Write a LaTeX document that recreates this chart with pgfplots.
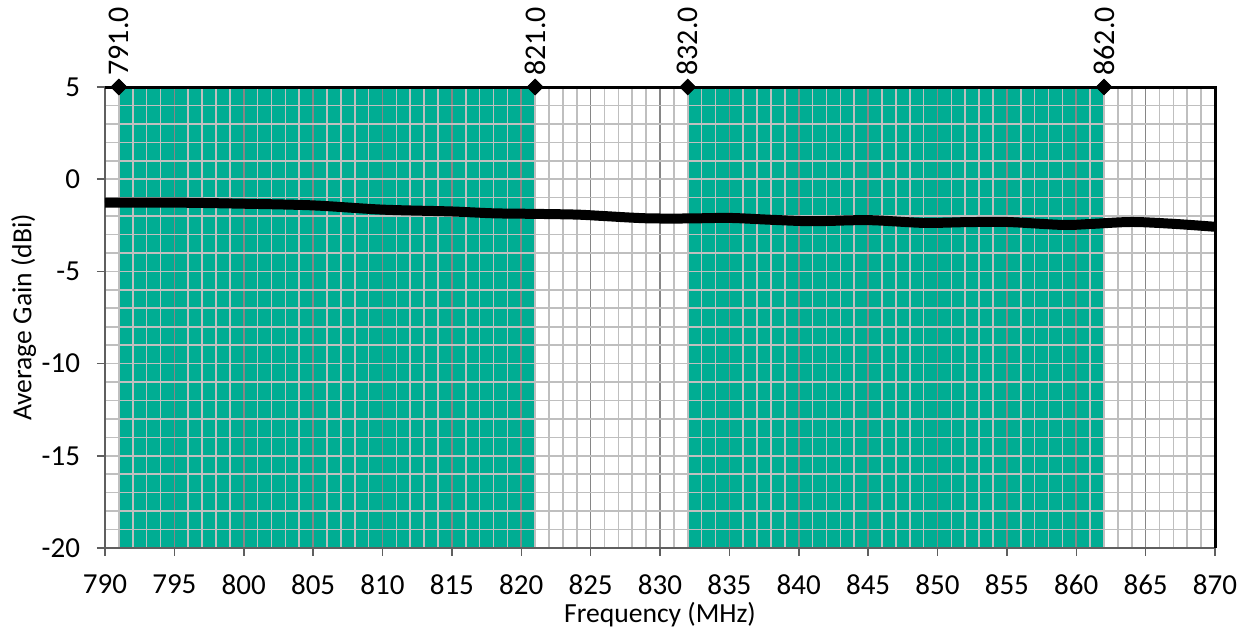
\documentclass[border=0pt]{standalone}
\usepackage{pgfplots}
\pgfplotsset{compat=1.18}
\usepackage{fontspec}
\setmainfont{Carlito}
\usetikzlibrary{calc}
\definecolor{band}{RGB}{0,173,147}
\definecolor{majgrid}{RGB}{134,134,134}
\definecolor{mingrid}{RGB}{191,191,191}
\definecolor{axgray}{RGB}{95,95,95}

\begin{document}
\begin{tikzpicture}
\begin{axis}[
    set layers,
    scale only axis,
    width=555bp, height=230.5bp,
    xmin=790, xmax=870, ymin=-20, ymax=5,
    xtick={790,795,...,870},
    ytick={-20,-15,...,5},
    minor x tick num=4, minor y tick num=4,
    grid=both,
    major grid style={mingrid, line width=0.8bp},
    major x grid style={majgrid, line width=0.8bp},
    minor grid style={mingrid, line width=0.8bp},
    tick pos=left, tick align=outside,
    major tick length=4bp, minor tick length=0pt,
    every tick/.style={axgray, line width=0.75bp},
    axis line style={axgray, line width=1bp},
    font=\fontsize{13.8bp}{16bp}\selectfont,
    tick label style={font=\fontsize{14.5bp}{16bp}\selectfont},
    xticklabel style={yshift=-6bp},
    yticklabel style={xshift=-5bp},
    xlabel style={yshift=3bp},
    ylabel style={yshift=-4bp},
    /pgf/number format/assume math mode=true,
    xlabel={Frequency (MHz)},
    ylabel={Average Gain (dBi)},
    clip=false,
]
% frequency bands
\addplot[fill=band, draw=none, on layer=axis background]
    coordinates {(791,-20) (791,5) (821,5) (821,-20)} -- cycle;
\addplot[fill=band, draw=none, on layer=axis background]
    coordinates {(832,-20) (832,5) (862,5) (862,-20)} -- cycle;

% measured gain
\addplot[black, line width=5bp, smooth] coordinates {
    (790,-1.27) (795,-1.27) (800,-1.33) (805,-1.42) (810,-1.65)
    (815,-1.75) (818,-1.85) (821,-1.88) (824,-1.92) (826,-2.0)
    (829,-2.12) (832,-2.13) (835,-2.10) (838,-2.2) (841,-2.28)
    (845,-2.22) (849,-2.37) (852,-2.33) (855,-2.32) (859,-2.48)
    (861,-2.43) (864,-2.32) (867,-2.42) (870,-2.58)
};

\draw[black, line width=1.5bp] (rel axis cs:0,1) -- (rel axis cs:1,1) -- (rel axis cs:1,0);

% band edges
\addplot[only marks, mark=square*, mark size=2.8bp,
    mark options={rotate=45, black},
    nodes near coords, point meta=explicit symbolic,
    nodes near coords style={rotate=90, anchor=west, inner xsep=5.5bp,
        font=\fontsize{15bp}{17bp}\selectfont, text=black}]
    coordinates {(791,5) [791.0] (821,5) [821.0] (832,5) [832.0] (862,5) [862.0]};
\end{axis}
\pgfresetboundingbox
\path ($(current axis.south west)+(-52.5bp,-40bp)$) rectangle ($(current axis.north east)+(15bp,43.5bp)$);
\end{tikzpicture}
\end{document}
